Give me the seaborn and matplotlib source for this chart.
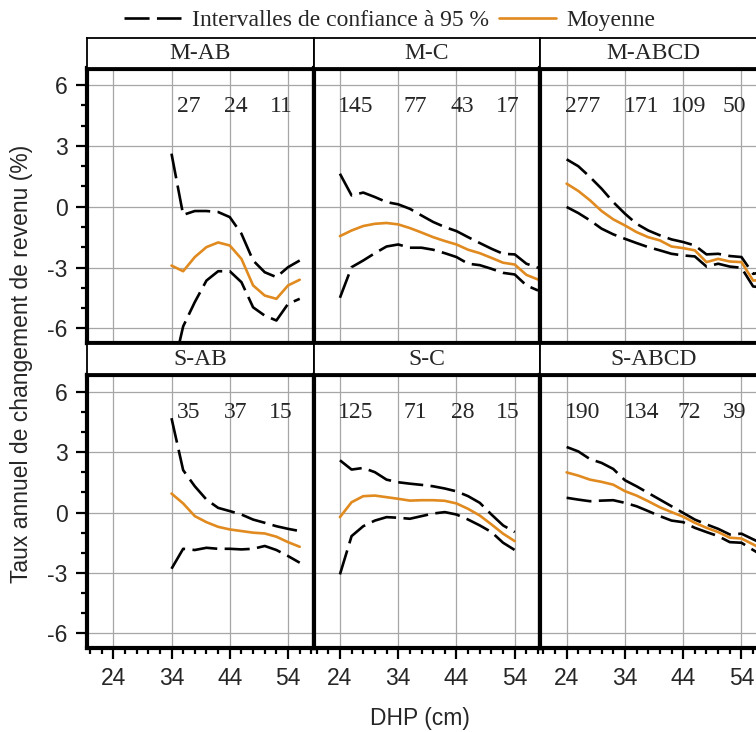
import matplotlib
matplotlib.use("Agg")
import matplotlib.pyplot as plt
from matplotlib.lines import Line2D
from matplotlib.ticker import MultipleLocator, FixedLocator
import seaborn as sns
import pandas as pd

# ---------------- data ----------------
panels = ["M-AB", "M-C", "M-ABCD", "S-AB", "S-C", "S-ABCD"]

dhp_ab = [34, 36, 38, 40, 42, 44, 46, 48, 50, 52, 54, 56]
dhp_c = [24, 26, 28, 30, 32, 34, 36, 38, 40, 42, 44, 46, 48, 50, 52, 54, 56, 58]
dhp_sc = [24, 26, 28, 30, 32, 34, 36, 38, 40, 42, 44, 46, 48, 50, 52, 54]

m_ab_mean = [-2.9, -3.18, -2.48, -1.99, -1.76, -1.91, -2.57, -3.88, -4.38, -4.54, -3.88, -3.6]
m_ab_up = [2.62, -0.4, -0.21, -0.21, -0.26, -0.51, -1.33, -2.65, -3.23, -3.47, -2.98, -2.65]
m_ab_lo = [-8.4, -5.9, -4.7, -3.64, -3.18, -3.18, -3.72, -4.96, -5.37, -5.61, -4.79, -4.54]

m_c_mean = [-1.45, -1.17, -0.95, -0.84, -0.80, -0.87, -1.05, -1.27, -1.5, -1.69, -1.86, -2.12,
            -2.29, -2.52, -2.76, -2.85, -3.36, -3.59]
m_c_up = [1.63, 0.56, 0.7, 0.48, 0.23, 0.12, -0.1, -0.43, -0.75, -1.0, -1.2, -1.5,
          -1.79, -2.07, -2.32, -2.35, -2.81, -3.01]
m_c_lo = [-4.49, -2.98, -2.65, -2.29, -1.96, -1.86, -2.02, -2.02, -2.12, -2.29, -2.48, -2.81,
          -2.88, -3.06, -3.26, -3.34, -3.88, -4.13]

m_abcd_mean = [1.14, 0.78, 0.32, -0.21, -0.62, -0.92, -1.25, -1.5, -1.66, -1.96, -2.04, -2.15,
               -2.73, -2.57, -2.7, -2.73, -3.64, -3.6]
m_abcd_up = [2.34, 2.0, 1.47, 0.89, 0.23, -0.34, -0.84, -1.17, -1.41, -1.61, -1.74, -1.91,
             -2.35, -2.32, -2.43, -2.48, -3.31, -3.2]
m_abcd_lo = [-0.01, -0.31, -0.67, -1.08, -1.36, -1.58, -1.79, -1.99, -2.15, -2.32, -2.4, -2.45,
             -2.95, -2.81, -2.95, -3.01, -3.93, -4.0]

s_ab_mean = [0.94, 0.45, -0.18, -0.48, -0.71, -0.84, -0.92, -1.0, -1.04, -1.2, -1.47, -1.7]
s_ab_up = [4.68, 2.1, 1.3, 0.64, 0.23, 0.07, -0.1, -0.35, -0.51, -0.68, -0.81, -0.92]
s_ab_lo = [-2.79, -1.8, -1.86, -1.75, -1.8, -1.8, -1.83, -1.8, -1.66, -1.86, -2.16, -2.49]

s_c_mean = [-0.23, 0.51, 0.81, 0.84, 0.76, 0.68, 0.59, 0.61, 0.61, 0.58, 0.45, 0.18,
            -0.15, -0.59, -1.05, -1.42]
s_c_up = [2.59, 2.13, 2.21, 2.0, 1.63, 1.5, 1.43, 1.37, 1.3, 1.19, 1.05, 0.81,
          0.48, -0.1, -0.64, -0.97]
s_c_lo = [-3.07, -1.17, -0.68, -0.4, -0.23, -0.26, -0.31, -0.18, -0.05, 0.02, -0.1, -0.35,
          -0.64, -0.97, -1.5, -1.86]

s_abcd_mean = [1.99, 1.83, 1.63, 1.52, 1.38, 1.06, 0.84, 0.56, 0.26, 0.02, -0.21, -0.51,
               -0.76, -0.97, -1.25, -1.29, -1.58, -1.9]
s_abcd_up = [3.25, 3.03, 2.65, 2.46, 2.16, 1.6, 1.3, 0.97, 0.64, 0.31, -0.02, -0.35,
             -0.59, -0.81, -1.09, -1.05, -1.33, -1.6]
s_abcd_lo = [0.73, 0.64, 0.56, 0.59, 0.61, 0.48, 0.31, 0.07, -0.18, -0.4, -0.48, -0.76,
             -0.97, -1.17, -1.47, -1.5, -1.86, -2.2]

count_labels = {
    "M-AB": ["", "27", "24", "11"],
    "M-C": ["145", "77", "43", "17"],
    "M-ABCD": ["277", "171", "109", "50"],
    "S-AB": ["", "35", "37", "15"],
    "S-C": ["125", "71", "28", "15"],
    "S-ABCD": ["190", "134", "72", "39"],
}
count_x = [26.7, 36.9, 45.0, 52.8]
count_y = 4.95

x_ticks = [24, 34, 44, 54]
y_ticks = [-6, -3, 0, 3, 6]

series = {
    "M-AB": (dhp_ab, m_ab_mean, m_ab_up, m_ab_lo),
    "M-C": (dhp_c, m_c_mean, m_c_up, m_c_lo),
    "M-ABCD": (dhp_c, m_abcd_mean, m_abcd_up, m_abcd_lo),
    "S-AB": (dhp_ab, s_ab_mean, s_ab_up, s_ab_lo),
    "S-C": (dhp_sc, s_c_mean, s_c_up, s_c_lo),
    "S-ABCD": (dhp_c, s_abcd_mean, s_abcd_up, s_abcd_lo),
}

rows = []
for p, (xs, mean, up, lo) in series.items():
    for kind, vals in (("Moyenne", mean), ("IC sup", up), ("IC inf", lo)):
        for x, v in zip(xs, vals):
            rows.append({"panel": p, "dhp": x, "value": v, "kind": kind})
df = pd.DataFrame(rows)

# ---------------- style ----------------
sns.set_theme(style="white")
plt.rcParams["font.family"] = ["Liberation Sans", "DejaVu Sans"]
plt.rcParams["axes.unicode_minus"] = False
SERIF = ["Liberation Serif", "DejaVu Serif"]

ORANGE = "#E08A1F"
GRIDC = "#A6A6A6"
LW = 1.9
DASH = (0, (9.5, 2.8))

W, H = 756, 732
fig = plt.figure(figsize=(W / 100, H / 100), dpi=100)

col_left = [87, 313.7, 540.4]
col_w = 226.7
row_top = [68.5, 375]
row_bot = [343, 648]
strip_top = [38, 344]
XLIM = (19.5, 58.4)
YLIM = (-6.72, 6.82)


def fx(px):
    return px / W


def fy(py):
    return 1 - py / H


for i, p in enumerate(panels):
    r, c = divmod(i, 3)
    ax = fig.add_axes([fx(col_left[c]), fy(row_bot[r]), col_w / W, (row_bot[r] - row_top[r]) / H])
    sub = df[df["panel"] == p]
    sns.lineplot(data=sub[sub["kind"] == "IC sup"], x="dhp", y="value", ax=ax,
                 color="black", lw=LW, linestyle=DASH, legend=False)
    sns.lineplot(data=sub[sub["kind"] == "IC inf"], x="dhp", y="value", ax=ax,
                 color="black", lw=LW, linestyle=DASH, legend=False)
    sns.lineplot(data=sub[sub["kind"] == "Moyenne"], x="dhp", y="value", ax=ax,
                 color=ORANGE, lw=LW, legend=False)
    ax.set_xlim(*XLIM)
    ax.set_ylim(*YLIM)
    ax.set_xlabel("")
    ax.set_ylabel("")
    ax.xaxis.set_major_locator(FixedLocator(x_ticks))
    ax.yaxis.set_major_locator(FixedLocator(y_ticks))
    ax.xaxis.set_minor_locator(MultipleLocator(2))
    ax.yaxis.set_minor_locator(MultipleLocator(1))
    ax.grid(True, which="major", color=GRIDC, lw=0.9)
    ax.set_axisbelow(True)
    for sp in ax.spines.values():
        sp.set_linewidth(3.0)
        sp.set_color("black")
    ax.tick_params(which="both", direction="out", color="black", width=1.6,
                   labelsize=16.5, bottom=(r == 1), left=(c == 0), top=False, right=False,
                   labelbottom=(r == 1), labelleft=(c == 0))
    ax.tick_params(which="major", length=8, pad=6)
    ax.tick_params(which="minor", length=4)
    for xv, t in zip(count_x, count_labels[p]):
        ax.text(xv, count_y, t, ha="center", va="center", fontsize=17, family=SERIF)

    # strip
    sax = fig.add_axes([fx(col_left[c]), fy(row_top[r] - 1), col_w / W,
                        (row_top[r] - 1 - strip_top[r]) / H])
    sax.set_xticks([])
    sax.set_yticks([])
    sax.set_facecolor("white")
    for sp in sax.spines.values():
        sp.set_linewidth(1.3)
        sp.set_color("black")
    sax.text(0.5, 0.48, p, transform=sax.transAxes, ha="center", va="center",
             fontsize=17, family=SERIF)

# legend
handles = [Line2D([], [], color="black", lw=LW, linestyle=DASH),
           Line2D([], [], color=ORANGE, lw=LW)]
fig.legend(handles, ["Intervalles de confiance à 95 %", "Moyenne"],
           loc="center", bbox_to_anchor=(fx(390), fy(20)), ncol=2, frameon=False,
           prop={"family": SERIF, "size": 17}, handlelength=2.4, handletextpad=0.45,
           columnspacing=0.45, borderpad=0, borderaxespad=0)

fig.text(fx(22), fy(364), "Taux annuel de changement de revenu (%)", rotation=90,
         ha="center", va="center", fontsize=16.5)
fig.text(fx(420), fy(718), "DHP (cm)", ha="center", va="center", fontsize=16.5)

fig.savefig("out.png", dpi=100)
